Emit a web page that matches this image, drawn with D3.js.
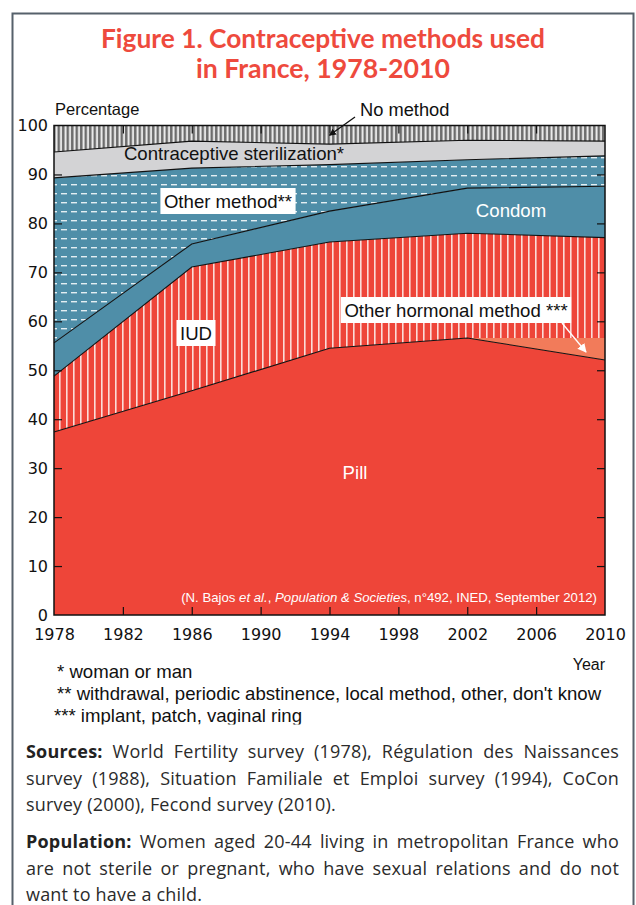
<!DOCTYPE html>
<html>
<head>
<meta charset="utf-8">
<script src="https://cdn.jsdelivr.net/npm/d3@7"></script>
<style>
  body { margin: 0; background: #fff; }
  svg { display: block; }
</style>
</head>
<body>
<svg id="mainsvg" width="636" height="905"></svg>
<script>
// survey years (as placed on the chart)
const years = [1978, 1986, 1994, 2002, 2010];
// percentages by method, bottom to top
const pill = [37.4, 45.8, 54.5, 56.6, 52.1];
const otherHormonal = [0, 0, 0, 0, 4.5];
const iud = [11.4, 25.3, 21.7, 21.4, 20.5];
const condom = [6.8, 4.7, 6.3, 9.2, 10.5];
const otherMethod = [33.7, 15.5, 9.5, 5.8, 6.2];
const sterilization = [5.3, 5.5, 4.2, 4.0, 3.0];
const noMethod = [5.4, 3.2, 3.8, 3.0, 3.2];
const xTicks = [1978, 1982, 1986, 1990, 1994, 1998, 2002, 2006, 2010];
const yTicks = [0, 10, 20, 30, 40, 50, 60, 70, 80, 90, 100];

const svg = d3.select('#mainsvg');
const plot = {left: 54, right: 605, top: 125.5, bottom: 615};

const keys = ['pill', 'hormonal', 'iud', 'condom', 'other', 'steril', 'none'];
const series = {pill: pill, hormonal: otherHormonal, iud: iud, condom: condom,
                other: otherMethod, steril: sterilization, none: noMethod};
const rows = years.map((y, i) => {
    const r = {year: y};
    keys.forEach(k => r[k] = series[k][i]);
    return r;
});

const xScale = d3.scaleLinear().domain([1978, 2010]).range([plot.left, plot.right]);
const yScale = d3.scaleLinear().domain([0, 100]).range([plot.bottom, plot.top]);

const stacked = d3.stack().keys(keys)(rows);

// frame round the figure
svg.append('rect')
    .attr('x', 12.5).attr('y', 13.5).attr('width', 621).attr('height', 900)
    .attr('fill', 'none').attr('stroke', '#56616b').attr('stroke-width', 2);

// title
const title = svg.append('g')
    .attr('font-family', 'Lato, "Open Sans", sans-serif')
    .attr('font-weight', 'bold').attr('fill', '#ee4a3d')
    .attr('text-anchor', 'middle');
title.append('text').attr('x', 323).attr('y', 48).attr('font-size', 26)
    .attr('textLength', 444).attr('lengthAdjust', 'spacingAndGlyphs')
    .text('Figure 1. Contraceptive methods used');
title.append('text').attr('x', 323).attr('y', 78).attr('font-size', 26)
    .attr('textLength', 254).attr('lengthAdjust', 'spacingAndGlyphs')
    .text('in France, 1978-2010');

// patterns
const defs = svg.append('defs');
const pIud = defs.append('pattern').attr('id', 'pIud').attr('patternUnits', 'userSpaceOnUse')
    .attr('width', 7).attr('height', 10);
pIud.append('rect').attr('width', 7).attr('height', 10).attr('fill', '#ee4539');
pIud.append('rect').attr('x', 3).attr('width', 1.6).attr('height', 10).attr('fill', '#fbdcd8');

const pOther = defs.append('pattern').attr('id', 'pOther').attr('patternUnits', 'userSpaceOnUse')
    .attr('width', 10).attr('height', 9);
pOther.append('rect').attr('width', 10).attr('height', 9).attr('fill', '#4f8ea8');
pOther.append('rect').attr('x', 1).attr('y', 4).attr('width', 6).attr('height', 1.4).attr('fill', '#e4eef2');

const pNone = defs.append('pattern').attr('id', 'pNone').attr('patternUnits', 'userSpaceOnUse')
    .attr('width', 4.5).attr('height', 10);
pNone.append('rect').attr('width', 4.5).attr('height', 10).attr('fill', '#6c6c6c');
pNone.append('rect').attr('x', 1.5).attr('width', 2).attr('height', 10).attr('fill', '#eeeeee');

const fills = {pill: '#ee4539', hormonal: '#f27b5a', iud: 'url(#pIud)', condom: '#4f8ea8',
               other: 'url(#pOther)', steril: '#d3d3d5', none: 'url(#pNone)'};

const chartGroup = svg.append('g');

const area = d3.area()
    .x(d => xScale(d.data.year))
    .y0(d => yScale(d[0]))
    .y1(d => yScale(d[1]));

chartGroup.selectAll('.layer')
    .data(stacked)
    .join('path')
    .attr('class', 'layer')
    .attr('d', area)
    .attr('fill', d => fills[d.key]);

// black lines on the top of the layers
const topLine = d3.line()
    .x(d => xScale(d.data.year))
    .y(d => yScale(d[1]));
chartGroup.selectAll('.edge')
    .data(stacked.filter(d => ['pill', 'iud', 'condom', 'other', 'steril'].includes(d.key)))
    .join('path')
    .attr('class', 'edge')
    .attr('d', topLine)
    .attr('fill', 'none').attr('stroke', '#111').attr('stroke-width', 1.1);

// axes (ticks inside)
const tickFont = 'DejaVu Sans, Verdana, sans-serif';
const xAxis = chartGroup.append('g')
    .attr('transform', `translate(0, ${plot.bottom})`)
    .call(d3.axisBottom(xScale).tickValues(xTicks).tickFormat(d3.format('d'))
        .tickSizeInner(-8).tickSizeOuter(0).tickPadding(14));
const yAxis = chartGroup.append('g')
    .attr('transform', `translate(${plot.left}, 0)`)
    .call(d3.axisLeft(yScale).tickValues(yTicks)
        .tickSizeInner(-8).tickSizeOuter(0).tickPadding(6));
const xTop = chartGroup.append('g')
    .attr('transform', `translate(0, ${plot.top})`)
    .call(d3.axisTop(xScale).tickValues(xTicks.slice(1, -1)).tickFormat('')
        .tickSizeInner(-8).tickSizeOuter(0));
const yRight = chartGroup.append('g')
    .attr('transform', `translate(${plot.right}, 0)`)
    .call(d3.axisRight(yScale).tickValues(yTicks.slice(1, -1)).tickFormat('')
        .tickSizeInner(-8).tickSizeOuter(0));
[xAxis, yAxis, xTop, yRight].forEach(g => {
    g.select('.domain').remove();
    g.selectAll('line').attr('stroke', '#111').attr('stroke-width', 1.2);
    g.selectAll('text').attr('font-family', tickFont).attr('font-size', 16).attr('fill', '#111');
});
xAxis.selectAll('.tick').filter(d => d === 1978 || d === 2010).select('line').remove();
yAxis.selectAll('.tick').filter(d => d === 0 || d === 100).select('line').remove();

// plot frame
chartGroup.append('rect')
    .attr('x', plot.left).attr('y', plot.top)
    .attr('width', plot.right - plot.left).attr('height', plot.bottom - plot.top)
    .attr('fill', 'none').attr('stroke', '#111').attr('stroke-width', 1.5);

// arrow heads
defs.append('marker').attr('id', 'arrBlack').attr('viewBox', '0 0 10 10')
    .attr('refX', 9).attr('refY', 5).attr('markerWidth', 7).attr('markerHeight', 7)
    .attr('orient', 'auto').attr('markerUnits', 'userSpaceOnUse')
    .append('path').attr('d', 'M0,0 L10,5 L0,10 Z').attr('fill', '#111');
defs.append('marker').attr('id', 'arrWhite').attr('viewBox', '0 0 10 10')
    .attr('refX', 9).attr('refY', 5).attr('markerWidth', 9).attr('markerHeight', 9)
    .attr('orient', 'auto').attr('markerUnits', 'userSpaceOnUse')
    .append('path').attr('d', 'M0,0 L10,5 L0,10 Z').attr('fill', '#fff');

const labelFont = '"Liberation Sans", Arial, sans-serif';
const labels = svg.append('g').attr('font-family', labelFont).attr('fill', '#111');

labels.append('text').attr('x', 55).attr('y', 115).attr('font-size', 16.5).text('Percentage');

// No method
labels.append('text').attr('x', 360).attr('y', 116).attr('font-size', 18.3).text('No method');
labels.append('line')
    .attr('x1', 355).attr('y1', 117).attr('x2', xScale(1994)).attr('y2', yScale(98))
    .attr('stroke', '#111').attr('stroke-width', 1.3).attr('marker-end', 'url(#arrBlack)');

labels.append('text').attr('x', 234).attr('y', 160).attr('font-size', 18.6)
    .attr('text-anchor', 'middle').text('Contraceptive sterilization*');

function boxLabel(cx, cy, txt, size) {
    const g = labels.append('g');
    const t = g.append('text').attr('x', cx).attr('y', cy + size * 0.35)
        .attr('font-size', size).attr('text-anchor', 'middle').text(txt);
    const w = t.node().getComputedTextLength();
    g.insert('rect', 'text')
        .attr('x', cx - w / 2 - 3.5).attr('y', cy - 13)
        .attr('width', w + 7).attr('height', 26).attr('fill', '#fff');
}
boxLabel(228, 201, 'Other method**', 18.6);
boxLabel(196, 333, 'IUD', 18.6);
boxLabel(456, 310, 'Other hormonal method ***', 18.6);

labels.append('line')
    .attr('x1', 562).attr('y1', 323).attr('x2', 586).attr('y2', 352)
    .attr('stroke', '#fff').attr('stroke-width', 1.3).attr('marker-end', 'url(#arrWhite)');

labels.append('text').attr('x', 511).attr('y', 217).attr('font-size', 18.6)
    .attr('text-anchor', 'middle').attr('fill', '#fff').text('Condom');
labels.append('text').attr('x', 355).attr('y', 479).attr('font-size', 18.6)
    .attr('text-anchor', 'middle').attr('fill', '#fff').text('Pill');

const credit = labels.append('text').attr('x', 597).attr('y', 602).attr('font-size', 13.2)
    .attr('text-anchor', 'end').attr('fill', '#fff');
credit.append('tspan').text('(N. Bajos ');
credit.append('tspan').attr('font-style', 'italic').text('et al.');
credit.append('tspan').text(', ');
credit.append('tspan').attr('font-style', 'italic').text('Population & Societies');
credit.append('tspan').text(', n°492, INED, September 2012)');

labels.append('text').attr('x', 605).attr('y', 670).attr('font-size', 16)
    .attr('text-anchor', 'end').text('Year');

// footnotes (last line cut by the picture edge)
defs.append('clipPath').attr('id', 'noteClip')
    .append('rect').attr('x', 0).attr('y', 640).attr('width', 636).attr('height', 84.5);
const notes = labels.append('g').attr('clip-path', 'url(#noteClip)').attr('font-size', 18.6);
notes.append('text').attr('x', 57).attr('y', 678).text('* woman or man');
notes.append('text').attr('x', 57).attr('y', 700)
    .text("** withdrawal, periodic abstinence, local method, other, don't know");
notes.append('text').attr('x', 54).attr('y', 722).text('*** implant, patch, vaginal ring');

// source and population notes, justified
const textLines = [
    {b: 'Sources:', t: ' World Fertility survey (1978), Régulation des Naissances', y: 758, j: true},
    {b: '', t: 'survey (1988), Situation Familiale et Emploi survey (1994), CoCon', y: 784.5, j: true},
    {b: '', t: 'survey (2000), Fecond survey (2010).', y: 811, j: false},
    {b: 'Population:', t: ' Women aged 20-44 living in metropolitan France who', y: 848, j: true},
    {b: '', t: 'are not sterile or pregnant, who have sexual relations and do not', y: 874.5, j: true},
    {b: '', t: 'want to have a child.', y: 901, j: false}
];
const body = svg.append('g').attr('font-family', '"Open Sans", Lato, sans-serif')
    .attr('font-size', 18).attr('letter-spacing', 0.2).attr('fill', '#2b2b2b');
const textLeft = 26, textRight = 619;
textLines.forEach(l => {
    const t = body.append('text').attr('x', textLeft).attr('y', l.y);
    if (l.b) t.append('tspan').attr('font-weight', 'bold').attr('fill', '#222').text(l.b);
    t.append('tspan').text(l.t);
    if (l.j) {
        const w = t.node().getComputedTextLength();
        const spaces = (l.b + l.t).split(' ').length - 1;
        t.attr('word-spacing', (textRight - textLeft - w) / spaces);
    }
});
</script>
</body>
</html>
